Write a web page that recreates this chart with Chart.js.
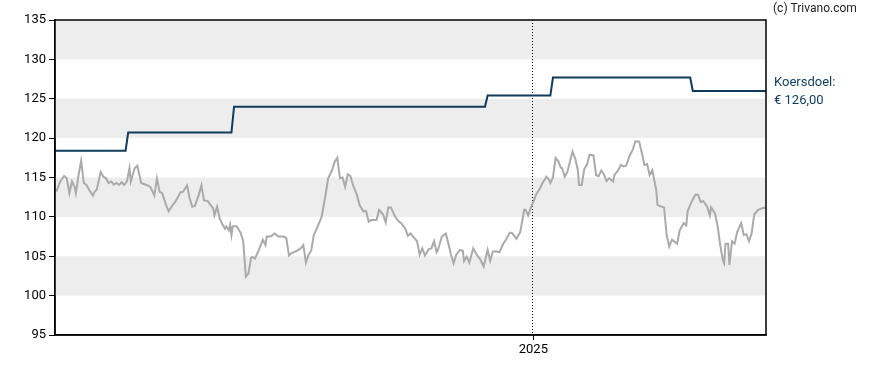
<!DOCTYPE html>
<html>
<head>
<meta charset="utf-8">
<script src="https://cdn.jsdelivr.net/npm/chart.js@4/dist/chart.umd.min.js"></script>
<style>
  html, body { margin: 0; padding: 0; background: #ffffff; }
  #wrap { width: 888px; height: 370px; position: relative; }
</style>
</head>
<body>
<div id="wrap"><canvas id="c" width="888" height="370"></canvas></div>
<script>
// Days relative to 1 Jan 2025 (day 0 = 2025)
const xMinDay = -366;
const xMaxDay = 178;
const yearTickDays = [0];
const yearTickLabels = ['2025'];

const yTicks = [95, 100, 105, 110, 115, 120, 125, 130, 135];
const bandRanges = [[100, 105], [110, 115], [120, 125], [130, 135]];

// Share price (grey line)
const priceDays = [
  -365,-362,-359,-357,-355,-353,-351,-350,-348,-346,-344,-342,-339,-337,-336,-334,-331,-329,-327,-325,
  -323,-321,-319,-317,-315,-313,-311,-309,-308,-305,-303,-302,-300,-296,-293,-290,-288,-286,-284,-281,
  -279,-276,-274,-270,-268,-265,-263,-261,-259,-256,-254,-252,-249,-247,-245,-244,-242,-240,-238,-236,
  -235,-233,-232,-231,-230,-227,-224,-222,-221,-220,-218,-216,-215,-213,-210,-207,-205,-204,-201,-198,
  -195,-191,-189,-187,-185,-182,-178,-176,-174,-172,-170,-168,-165,-162,-159,-157,-154,-152,-150,-148,
  -146,-144,-142,-140,-138,-135,-133,-130,-128,-126,-124,-120,-118,-115,-113,-111,-109,-106,-103,-101,
  -98,-96,-94,-92,-90,-89,-87,-85,-83,-80,-78,-76,-74,-73,-70,-67,-65,-63,-61,-59,
  -56,-54,-53,-51,-49,-46,-43,-41,-38,-35,-33,-31,-28,-26,-23,-21,-18,-16,-13,-10,
  -7,-6,-4,-2,0,2,5,7,10,12,13,15,17,19,21,22,24,26,28,30,
  32,34,35,37,39,41,43,46,48,50,52,54,56,58,61,62,65,67,69,71,
  74,76,78,81,83,85,87,89,91,94,95,98,100,102,104,106,110,112,115,117,
  118,121,124,126,128,130,133,135,136,139,141,143,145,146,147,149,150,152,154,156,
  159,161,163,165,167,169,172,175,178
];
const priceValues = [
  113.2,114.5,115.2,114.9,113.0,114.5,113.8,113.0,115.3,117.1,114.3,114.05,113.2,112.7,113.1,113.5,115.7,115.1,114.9,114.3,
  114.5,114.1,114.3,114.05,114.4,114.05,114.5,116.2,114.5,116.2,116.5,115.7,114.3,114.05,113.8,112.7,114.9,113.2,113.0,111.5,
  110.7,111.5,111.9,113.1,113.2,114.0,112.4,111.3,111.4,112.8,114.0,112.1,112.0,111.5,111.1,110.2,111.3,109.8,109.1,108.5,
  108.8,108.3,109.0,107.7,108.8,108.8,108.0,106.9,104.7,102.4,102.8,104.8,104.9,104.7,105.8,107.1,106.4,107.5,107.5,107.9,
  107.5,107.5,107.3,105.1,105.4,105.6,106.0,106.4,104.2,105.2,105.7,107.7,108.8,110.0,112.8,114.9,115.95,117.0,117.5,114.9,
  115.0,113.8,115.4,115.2,114.05,112.8,111.5,110.7,110.75,109.4,109.6,109.6,110.9,110.3,109.3,111.2,111.2,110.1,109.4,109.2,
  108.5,107.6,107.9,107.5,107.1,106.9,105.2,106.0,105.1,105.9,106.0,106.9,105.5,105.8,107.5,107.9,106.6,105.2,104.1,105.2,
  105.8,105.7,104.4,104.95,104.2,106.0,105.1,104.7,103.7,105.8,104.4,105.6,105.6,105.5,106.6,107.1,108.0,107.9,107.2,108.1,
  110.9,110.9,110.2,111.1,111.9,112.8,113.6,114.3,115.1,114.7,114.3,115.0,117.5,117.1,116.25,116.2,115.1,115.7,117.0,118.3,
  117.4,115.95,114.05,114.05,116.1,116.6,117.9,117.8,115.3,115.2,115.9,115.4,114.55,114.9,114.5,115.3,115.95,116.6,116.4,116.5,
  117.9,118.5,119.6,119.55,118.1,116.6,116.7,115.3,115.95,113.4,111.5,111.3,111.2,107.7,106.2,107.1,106.6,108.3,109.2,108.9,
  110.7,111.9,112.8,112.8,111.9,112.0,111.3,110.2,111.2,110.45,108.8,106.4,104.5,104.1,106.6,106.6,103.9,106.9,106.6,108.1,
  109.2,107.7,107.8,106.9,107.9,110.3,110.9,111.1,111.2
];

// Price target (dark blue step line)
const targetDays   = [-366, -312, -310, -231, -229, -37, -35, 13, 15, 120, 122, 178];
const targetValues = [118.4, 118.4, 120.7, 120.7, 124.0, 124.0, 125.4, 125.4, 127.7, 127.7, 126.0, 126.0];

const targetLabel = 'Koersdoel:';
const targetValueLabel = '€ 126,00';
const copyrightLabel = '(c) Trivano.com';

const FONT = 'Roboto, "Liberation Sans", Arial, sans-serif';
const NAVY = '#0f3b5c';

const bandsPlugin = {
  id: 'bands',
  beforeDatasetsDraw(chart) {
    const { ctx, chartArea, scales } = chart;
    ctx.save();
    ctx.fillStyle = '#ededed';
    bandRanges.forEach(([lo, hi]) => {
      const yTop = scales.y.getPixelForValue(hi);
      const yBot = scales.y.getPixelForValue(lo);
      ctx.fillRect(chartArea.left, yTop, chartArea.right - chartArea.left, yBot - yTop);
    });
    // dotted year line
    ctx.strokeStyle = '#000';
    ctx.lineWidth = 1;
    ctx.setLineDash([1, 2]);
    yearTickDays.forEach(d => {
      const x = Math.round(scales.x.getPixelForValue(d)) - 0.5;
      ctx.beginPath();
      ctx.moveTo(x, chartArea.top);
      ctx.lineTo(x, chartArea.bottom);
      ctx.stroke();
    });
    ctx.restore();
  },
  afterDraw(chart) {
    const { ctx, chartArea } = chart;
    ctx.save();
    ctx.strokeStyle = '#000';
    ctx.lineWidth = 1.5;
    ctx.strokeRect(chartArea.left, chartArea.top, chartArea.right - chartArea.left, chartArea.bottom - chartArea.top);
    ctx.textBaseline = 'middle';
    ctx.textAlign = 'left';
    ctx.font = '12px ' + FONT;
    ctx.fillStyle = '#222';
    ctx.fillText(copyrightLabel, chartArea.right + 7, 9);
    ctx.font = '13px ' + FONT;
    ctx.fillStyle = NAVY;
    ctx.fillText(targetLabel, chartArea.right + 8, 83);
    ctx.fillText(targetValueLabel, chartArea.right + 8, 101);
    ctx.restore();
  }
};

new Chart(document.getElementById('c'), {
  type: 'line',
  data: {
    datasets: [
      {
        label: 'Koers',
        data: priceDays.map((d, i) => ({ x: d, y: priceValues[i] })),
        borderColor: '#aaaaaa',
        borderWidth: 2,
        pointRadius: 0,
        tension: 0,
        order: 2
      },
      {
        label: 'Koersdoel',
        data: targetDays.map((d, i) => ({ x: d, y: targetValues[i] })),
        borderColor: NAVY,
        borderWidth: 2,
        pointRadius: 0,
        tension: 0,
        order: 1
      }
    ]
  },
  options: {
    responsive: false,
    animation: false,
    layout: { padding: { top: 20, right: 122, left: 0, bottom: 0 } },
    plugins: { legend: { display: false }, tooltip: { enabled: false } },
    scales: {
      x: {
        type: 'linear',
        min: xMinDay,
        max: xMaxDay,
        afterBuildTicks(scale) { scale.ticks = yearTickDays.map(v => ({ value: v })); },
        afterFit(scale) { scale.height = 35; },
        ticks: {
          callback: (v) => yearTickLabels[yearTickDays.indexOf(v)] ?? '',
          color: '#000',
          font: { family: FONT, size: 13 },
          padding: 2,
          maxRotation: 0
        },
        grid: { drawOnChartArea: false, drawTicks: true, tickLength: 5, color: '#000' },
        border: { display: true, color: '#000', width: 1.5 }
      },
      y: {
        min: 95,
        max: 135,
        afterBuildTicks(scale) { scale.ticks = yTicks.map(v => ({ value: v })); },
        afterFit(scale) { scale.width = 55; },
        ticks: {
          color: '#000',
          font: { family: FONT, size: 13 },
          padding: 3
        },
        grid: { drawOnChartArea: false, drawTicks: true, tickLength: 6, color: '#000' },
        border: { display: true, color: '#000', width: 1.5 }
      }
    }
  },
  plugins: [bandsPlugin]
});
</script>
</body>
</html>
